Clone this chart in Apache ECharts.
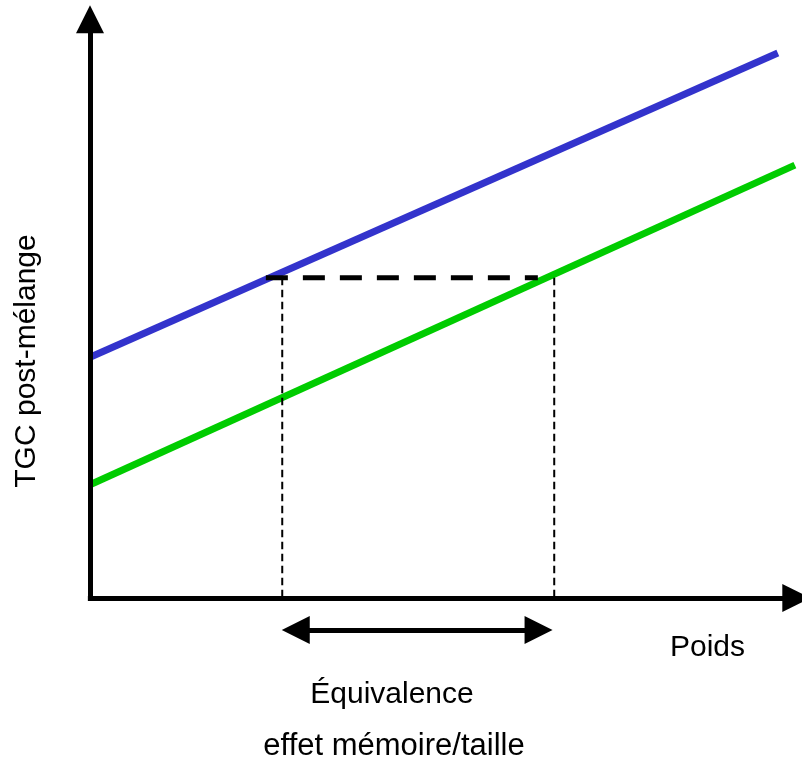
<!DOCTYPE html>
<html>
<head>
<meta charset="utf-8">
<script src="https://cdn.jsdelivr.net/npm/echarts@6/dist/echarts.min.js"></script>
<style>
  html, body { margin: 0; padding: 0; background: #fff; }
  #chart { width: 802px; height: 767px; }
</style>
</head>
<body>
<div id="chart"></div>
<script>
// données (unités arbitraires : Poids 0-100, TGC 0-100)
var axisX = [[-0.3, 0], [99.2, 0]];
var axisY = [[0, -0.4], [0, 97.6]];
var ligneBleue = [[0, 40.6], [96.6, 91.9]];
var ligneVerte = [[0, 19.1], [99.0, 73.0]];
var niveauEquiv = [[24.7, 54.0], [62.9, 54.0]];
var repereGauche = [[27.0, 54.0], [27.0, 0]];
var repereDroit = [[65.2, 54.0], [65.2, 0]];
var flecheEquiv = [[28.9, -5.4], [63.0, -5.4]];

var FONT = '"Liberation Sans", Arial, sans-serif';

var chart = echarts.init(document.getElementById('chart'));

function ligne(data, color, width, type) {
  return {
    type: 'line',
    data: data,
    showSymbol: false,
    symbol: 'none',
    silent: true,
    clip: false,
    lineStyle: { color: color, width: width, type: type || 'solid', cap: 'butt' },
    z: 2
  };
}

function fleche(coords, symbols) {
  return {
    type: 'lines',
    coordinateSystem: 'cartesian2d',
    silent: true,
    clip: false,
    symbol: symbols,
    symbolSize: [28, 28],
    lineStyle: { color: '#000', width: 5, opacity: 1, curveness: 0 },
    data: [{ coords: coords }],
    z: 3
  };
}

chart.setOption({
  animation: false,
  backgroundColor: '#fff',
  grid: { left: 90, right: 0, top: 5, bottom: 0 },
  xAxis: { type: 'value', min: 0, max: 100, show: false },
  yAxis: { type: 'value', min: -28.5, max: 100, show: false },
  series: [
    ligne(ligneBleue, '#3333cc', 7),
    ligne(ligneVerte, '#00cc00', 7),
    ligne(niveauEquiv, '#000', 5, [22, 15]),
    ligne(repereGauche, '#000', 2, [7.5, 4.5]),
    ligne(repereDroit, '#000', 2, [7.5, 4.5]),
    fleche(axisX, ['none', 'triangle']),
    fleche(axisY, ['none', 'triangle']),
    fleche(flecheEquiv, ['triangle', 'triangle'])
  ],
  graphic: [
    {
      type: 'text', x: 27, y: 361, rotation: Math.PI / 2,
      style: { text: 'TGC post-mélange', font: '30px ' + FONT, fill: '#000', align: 'center', verticalAlign: 'middle' }
    },
    {
      type: 'text', x: 670, y: 648,
      style: { text: 'Poids', font: '30px ' + FONT, fill: '#000', align: 'left', verticalAlign: 'middle' }
    },
    {
      type: 'text', x: 392, y: 695,
      style: { text: 'Équivalence', font: '30px ' + FONT, fill: '#000', align: 'center', verticalAlign: 'middle' }
    },
    {
      type: 'text', x: 394, y: 746,
      style: { text: 'effet mémoire/taille', font: '31px ' + FONT, fill: '#000', align: 'center', verticalAlign: 'middle' }
    }
  ]
});
</script>
</body>
</html>
